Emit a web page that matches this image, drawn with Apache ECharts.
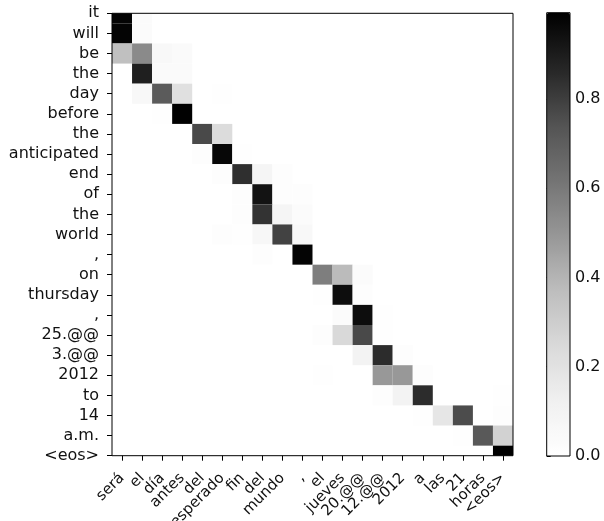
<!DOCTYPE html>
<html>
<head>
<meta charset="utf-8">
<script src="https://cdn.jsdelivr.net/npm/echarts@6/dist/echarts.min.js"></script>
<style>
html,body{margin:0;padding:0;background:#fff;}
#chart{width:604px;height:521px;}
</style>
</head>
<body>
<div id="chart"></div>
<script>
// Source (x) and target (y) tokens
const sourceTokens = ['será','el','día','antes','del','esperado','fin','del','mundo',',','el','jueves','20.@@','12.@@','2012','a','las','21','horas','<eos>'];
const targetTokens = ['it','will','be','the','day','before','the','anticipated','end','of','the','world',',','on','thursday',',','25.@@','3.@@','2012','to','14','a.m.','<eos>'];
const colorbarTicks = [0, 0.2, 0.4, 0.6, 0.8];
const colorMax = 0.993;

// Attention weights: one row per target token, one column per source token
const attention = [
  [0.98,0.03,0,0,0,0,0,0,0,0,0,0,0,0,0,0,0,0,0,0],
  [0.98,0.03,0,0,0,0,0,0,0,0,0,0,0,0,0,0,0,0,0,0],
  [0.36,0.54,0.06,0.04,0,0,0,0,0,0,0,0,0,0,0,0,0,0,0,0],
  [0,0.89,0.04,0.04,0,0,0,0,0,0,0,0,0,0,0,0,0,0,0,0],
  [0,0.06,0.71,0.21,0,0.01,0,0,0,0,0,0,0,0,0,0,0,0,0,0],
  [0,0,0.01,0.99,0,0,0,0,0,0,0,0,0,0,0,0,0,0,0,0],
  [0,0,0,0,0.77,0.23,0,0,0,0,0,0,0,0,0,0,0,0,0,0],
  [0,0,0,0,0.02,0.97,0.01,0,0,0,0,0,0,0,0,0,0,0,0,0],
  [0,0,0,0,0,0.02,0.84,0.08,0.02,0,0,0,0,0,0,0,0,0,0,0],
  [0,0,0,0,0,0,0.02,0.93,0.02,0.02,0,0,0,0,0,0,0,0,0,0],
  [0,0,0,0,0,0,0.02,0.83,0.08,0.03,0,0,0,0,0,0,0,0,0,0],
  [0,0,0,0,0,0.02,0.01,0.07,0.79,0.06,0,0,0,0,0,0,0,0,0,0],
  [0,0,0,0,0,0,0,0.02,0,0.98,0,0,0,0,0,0,0,0,0,0],
  [0,0,0,0,0,0,0,0,0,0,0.58,0.38,0.03,0,0,0,0,0,0,0],
  [0,0,0,0,0,0,0,0,0,0,0.01,0.95,0.02,0,0,0,0,0,0,0],
  [0,0,0,0,0,0,0,0,0,0,0,0.03,0.95,0.01,0,0,0,0,0,0],
  [0,0,0,0,0,0,0,0,0,0,0.02,0.25,0.77,0.01,0,0,0,0,0,0],
  [0,0,0,0,0,0,0,0,0,0,0,0,0.10,0.85,0.02,0,0,0,0,0],
  [0,0,0,0,0,0,0,0,0,0,0.01,0,0,0.49,0.49,0.02,0,0,0,0],
  [0,0,0,0,0,0,0,0,0,0,0,0,0,0.02,0.10,0.85,0,0,0,0.01],
  [0,0,0,0,0,0,0,0,0,0,0,0,0,0,0,0.01,0.18,0.76,0,0.02],
  [0,0,0,0,0,0,0,0,0,0,0,0,0,0,0,0,0,0.01,0.72,0.28],
  [0,0,0,0,0,0,0,0,0,0,0,0,0,0,0,0,0,0,0,0.993]
];

const cells = [];
attention.forEach((row, y) => row.forEach((v, x) => { if (v > 0) cells.push([x, y, v]); }));

const greys = ['#ffffff','#f0f0f0','#d9d9d9','#bdbdbd','#969696','#737373','#525252','#252525','#000000'];
const font = 'DejaVu Sans';
const chart = echarts.init(document.getElementById('chart'));
chart.setOption({
  animation: false,
  backgroundColor: '#fff',
  grid: [
    {left: 112, top: 13.3, width: 401, height: 442.4, show: true, borderColor: '#000', borderWidth: 1, backgroundColor: 'transparent', z: 10, containLabel: false, outerBoundsMode: 'none'},
    {left: 546.7, top: 12.7, width: 23.3, height: 443.3, show: true, borderColor: '#000', borderWidth: 1, backgroundColor: 'transparent', z: 10, containLabel: false, outerBoundsMode: 'none'}
  ],
  xAxis: [
    {type: 'category', data: sourceTokens, gridIndex: 0, boundaryGap: true,
     axisLine: {show: false}, axisTick: {show: true, alignWithLabel: true, length: 5, lineStyle: {color: '#000'}},
     axisLabel: {rotate: 45, interval: 0, margin: 20, color: '#111', fontFamily: font, fontSize: 15},
     splitLine: {show: false}},
    {type: 'value', gridIndex: 1, show: false, min: 0, max: 1}
  ],
  yAxis: [
    {type: 'category', data: targetTokens, gridIndex: 0, inverse: true, boundaryGap: false,
     axisLine: {show: false}, axisTick: {show: true, length: 5, lineStyle: {color: '#000'}, interval: 0},
     axisLabel: {interval: 0, margin: 13, color: '#111', fontFamily: font, fontSize: 16},
     splitLine: {show: false}},
    {type: 'value', gridIndex: 1, position: 'right', min: 0, max: colorMax,
     axisLine: {show: false},
     axisTick: {show: true, length: 4, lineStyle: {color: '#000'}, customValues: colorbarTicks},
     axisLabel: {margin: 5, color: '#111', fontFamily: font, fontSize: 16, customValues: colorbarTicks, formatter: v => v.toFixed(1)},
     splitLine: {show: false}}
  ],
  visualMap: {
    type: 'continuous', min: 0, max: colorMax, dimension: 2, seriesIndex: 0,
    left: 546.7, top: 12.7, itemWidth: 23.3, itemHeight: 443.3, padding: 0,
    calculable: false, hoverLink: false, text: null, show: true,
    inRange: {color: greys}
  },
  series: [{
    type: 'custom', xAxisIndex: 0, yAxisIndex: 0,
    encode: {x: 0, y: 1},
    data: cells,
    renderItem: function (params, api) {
      const p = api.coord([api.value(0), api.value(1)]);
      const s = api.size([1, 1]);
      const cs = params.coordSys;
      const r = echarts.graphic.clipRectByRect(
        {x: p[0] - s[0] / 2, y: p[1] - s[1] / 2, width: s[0], height: s[1]},
        {x: cs.x, y: cs.y, width: cs.width, height: cs.height});
      if (!r) return;
      return {type: 'rect', shape: r, style: {fill: api.visual('color'), stroke: null}};
    }
  }]
});
</script>
</body>
</html>
